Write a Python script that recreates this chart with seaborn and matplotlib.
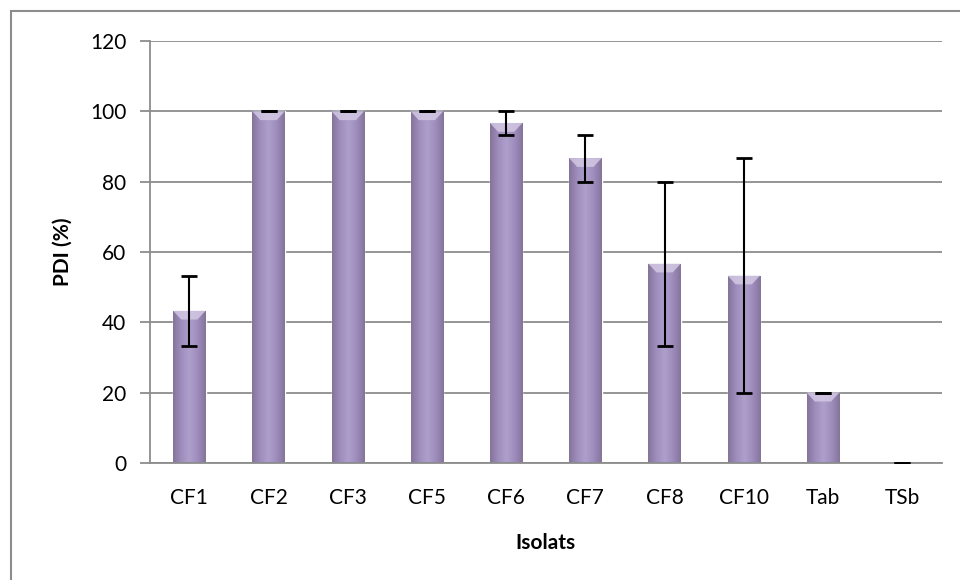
import numpy as np
import pandas as pd
import matplotlib
matplotlib.use("Agg")
import matplotlib.pyplot as plt
from matplotlib.patches import Rectangle
from matplotlib.colors import LinearSegmentedColormap
import seaborn as sns

# Dados
isolats = ["CF1", "CF2", "CF3", "CF5", "CF6", "CF7", "CF8", "CF10", "Tab", "TSb"]
pdi = [43.3, 100, 100, 100, 96.7, 86.7, 56.7, 53.3, 20, 0]
erro = [10, 0, 0, 0, 3.3, 6.7, 23.3, 33.3, 0, 0]

df = pd.DataFrame({"Isolats": isolats, "PDI": pdi, "erro": erro})

sns.set_style("white")
plt.rcParams["font.family"] = ["Lato", "DejaVu Sans"]
plt.rcParams["text.color"] = "black"
plt.rcParams["axes.labelcolor"] = "black"

fig = plt.figure(figsize=(9.6, 5.8), dpi=100)
ax = fig.add_axes([0.156, 0.2017, 0.825, 0.7276])

# moldura externa do gráfico (estilo Excel)
fig.patches.append(Rectangle((11 / 960, -0.05), 1.1, 1 - 11 / 580 + 0.05,
                             transform=fig.transFigure, fill=False,
                             edgecolor="#8c8c8c", linewidth=1.5))

sns.barplot(data=df, x="Isolats", y="PDI", color="#9d8bbd", width=0.41,
            ax=ax, zorder=2, saturation=1)

# degradê cilíndrico em cada barra
cmap = LinearSegmentedColormap.from_list(
    "roxo", ["#847499", "#9e8dbd", "#ae9fcb", "#9e8dbd", "#847499"])
grad = np.linspace(0, 1, 256).reshape(1, -1)
for bar in ax.patches:
    x0, w, h = bar.get_x(), bar.get_width(), bar.get_height()
    if h <= 0:
        continue
    bar.set_facecolor("none")
    im = ax.imshow(grad, cmap=cmap, aspect="auto", extent=[x0, x0 + w, 0, h],
                   zorder=2, interpolation="bicubic")
    im.set_clip_path(bar)
    # bisel claro no topo
    ax.fill([x0, x0 + w, x0 + w * 0.75, x0 + w * 0.25],
            [h, h, h - 2.5, h - 2.5], color="#d6cce6", alpha=0.8, zorder=3,
            linewidth=0)

ax.errorbar(np.arange(len(isolats)), df["PDI"], yerr=df["erro"], fmt="none",
            ecolor="black", elinewidth=1.5, capsize=6, capthick=2, zorder=4)

ax.set_xlim(-0.5, len(isolats) - 0.5)
ax.set_ylim(0, 120)
ax.set_yticks(range(0, 121, 20))
ax.yaxis.grid(True, color="#8c8c8c", linewidth=1.3, zorder=0)
ax.set_axisbelow(True)
for s in ["top", "right"]:
    ax.spines[s].set_visible(False)
for s in ["left", "bottom"]:
    ax.spines[s].set_color("#8c8c8c")
    ax.spines[s].set_linewidth(1.3)

ax.set_xticks(np.arange(len(isolats)) + 0.5, minor=True)
ax.tick_params(axis="x", which="major", length=0, labelsize=15, pad=18,
               labelcolor="black")
ax.tick_params(axis="x", which="minor", length=7, color="#8c8c8c", width=1.3)
ax.tick_params(axis="y", length=7, color="#8c8c8c", width=1.3, labelsize=15,
               pad=10, left=True, labelcolor="black")

ax.set_xlabel("Isolats", fontsize=15, fontweight="bold", labelpad=18)
ax.set_ylabel("PDI (%)", fontsize=15, fontweight="bold", labelpad=12)

fig.savefig("out.png", dpi=100)
